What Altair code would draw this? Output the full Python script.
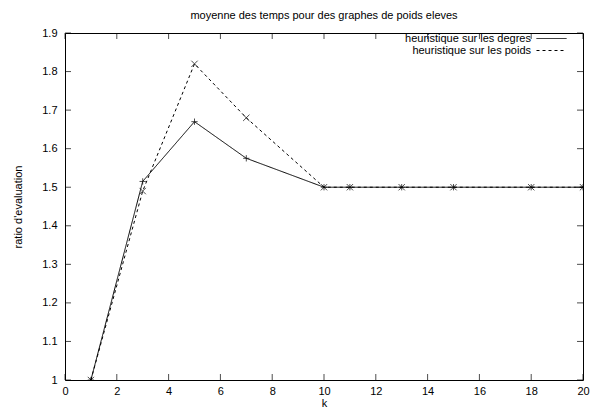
import altair as alt
import pandas as pd

k_values = [1, 3, 5, 7, 10, 11, 13, 15, 18, 20]
degres = [1.0, 1.515, 1.67, 1.575, 1.5, 1.5, 1.5, 1.5, 1.5, 1.5]
poids = [1.0, 1.49, 1.82, 1.68, 1.5, 1.5, 1.5, 1.5, 1.5, 1.5]
series_names = ["heuristique sur les degres", "heuristique sur les poids"]
x_ticks = [0, 2, 4, 6, 8, 10, 12, 14, 16, 18, 20]
y_ticks = [1.0, 1.1, 1.2, 1.3, 1.4, 1.5, 1.6, 1.7, 1.8, 1.9]

rows = []
for k, a, b in zip(k_values, degres, poids):
    rows.append({"k": k, "v": a, "s": series_names[0]})
    rows.append({"k": k, "v": b, "s": series_names[1]})
df = pd.DataFrame(rows)

FONT = "Liberation Sans"
xs = alt.Scale(domain=[x_ticks[0], x_ticks[-1]], nice=False, zero=False)
ys = alt.Scale(domain=[y_ticks[0], y_ticks[-1]], nice=False, zero=False)

x_axis = alt.Axis(values=x_ticks, ticks=False, grid=False, domain=False,
                  labelOverlap=False, labelFlush=False,
                  labelPadding=5, titlePadding=1, titleFontWeight="normal")
y_axis = alt.Axis(values=y_ticks, ticks=False, grid=False, domain=False,
                  labelOverlap=False, labelFlush=False,
                  format="~g", labelPadding=8, titlePadding=18, titleFontWeight="normal")

def X(field):
    return alt.X(field, type="quantitative", scale=xs, title="k", axis=x_axis)

def Y(field):
    return alt.Y(field, type="quantitative", scale=ys, title="ratio d'evaluation", axis=y_axis)

lines = alt.Chart(df).mark_line(strokeWidth=1, clip=True, color="black").encode(
    x=X("k"), y=Y("v"),
    strokeDash=alt.StrokeDash("s:N", scale=alt.Scale(domain=series_names, range=[[1, 0], [3, 3]]),
                              title=None,
                              legend=alt.Legend(orient="none", legendX=481, legendY=0,
                                                symbolType="M-3,0L3,0", symbolSize=100,
                                                symbolStrokeWidth=1, symbolStrokeColor="black",
                                                labelAlign="right", labelOffset={"expr": "-26"},
                                                labelFontSize=11, labelFont=FONT, labelLimit=0,
                                                rowPadding=0, padding=0, labelColor="black")),
)

pts_deg = alt.Chart(df).transform_filter(alt.datum.s == series_names[0]).mark_point(
    shape="M-1,0L1,0M0,-1L0,1", filled=False, strokeWidth=1, size=40, clip=True, color="black"
).encode(x=X("k"), y=Y("v"))
pts_poi = alt.Chart(df).transform_filter(alt.datum.s == series_names[1]).mark_point(
    shape="M-1,-1L1,1M-1,1L1,-1", filled=False, strokeWidth=1, size=40, clip=True, color="black"
).encode(x=X("k"), y=Y("v"))

xt = pd.DataFrame({"t": x_ticks, "lo": y_ticks[0], "hi": y_ticks[-1]})
yt = pd.DataFrame({"t": y_ticks, "lo": x_ticks[0], "hi": x_ticks[-1]})
tick_b = alt.Chart(xt).mark_tick(orient="vertical", size=6, thickness=1, yOffset=-3, color="black").encode(
    x=X("t"), y=Y("lo"))
tick_t = alt.Chart(xt).mark_tick(orient="vertical", size=6, thickness=1, yOffset=3, color="black").encode(
    x=X("t"), y=Y("hi"))
tick_l = alt.Chart(yt).mark_tick(orient="horizontal", size=6, thickness=1, xOffset=3, color="black").encode(
    y=Y("t"), x=X("lo"))
tick_r = alt.Chart(yt).mark_tick(orient="horizontal", size=6, thickness=1, xOffset=-3, color="black").encode(
    y=Y("t"), x=X("hi"))

chart = alt.layer(lines, pts_deg, pts_poi, tick_b, tick_t, tick_l, tick_r).properties(
    width=518, height=347,
    title=alt.Title("moyenne des temps pour des graphes de poids eleves", fontSize=11,
                    font=FONT, fontWeight="normal", offset=6, color="black"),
    autosize=alt.AutoSizeParams(type="none"),
    padding={"left": 57, "top": 25, "right": 7, "bottom": 31},
    background="white",
).configure_view(stroke="black", strokeWidth=1).configure_axis(
    labelFont=FONT, labelFontSize=11, labelColor="black",
    titleFont=FONT, titleFontSize=11, titleColor="black",
)

chart.save("out.html", embed_options={"renderer": "svg", "actions": False})
